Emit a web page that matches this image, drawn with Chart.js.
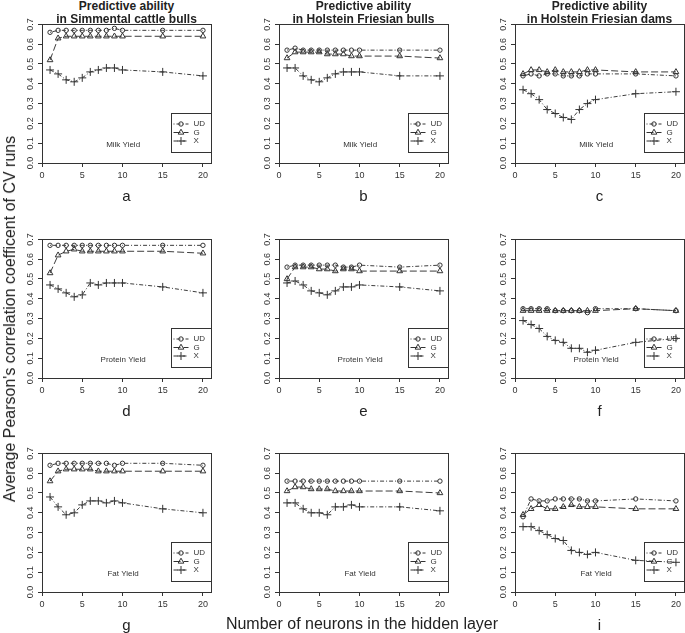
<!DOCTYPE html>
<html>
<head>
<meta charset="utf-8">
<script src="https://cdn.jsdelivr.net/npm/chart.js@4.4.1/dist/chart.umd.min.js"></script>
<style>
  html, body { margin: 0; padding: 0; background: #fff; }
  #page { position: relative; width: 685px; height: 633px; overflow: hidden;
          font-family: "Liberation Sans", Arial, sans-serif; color: #222; }
  #page canvas { position: absolute; }
  .t { position: absolute; transform: translate(-50%, -50%); white-space: nowrap; line-height: 1; }
  .head { font-weight: bold; font-size: 12px; }
  .let { font-size: 15px; }
  .axt { font-size: 16px; }
  .yt { transform: translate(-50%, -50%) rotate(-90deg); }
</style>
</head>
<body>
<div id="page"></div>
<script>
// 3x3 panels: rows = trait, cols = population. x = neurons in hidden layer.

const neurons = [1, 2, 3, 4, 5, 6, 7, 8, 9, 10, 15, 20];
const seriesNames = ["UD", "G", "X"];
const populations = ["in Simmental cattle bulls", "in Holstein Friesian bulls", "in Holstein Friesian dams"];
const traits = ["Milk Yield", "Protein Yield", "Fat Yield"];
const panelLetters = ["a", "b", "c", "d", "e", "f", "g", "", "i"];
const yTicks = [0, 0.1, 0.2, 0.3, 0.4, 0.5, 0.6, 0.7];
const xTicks = [0, 5, 10, 15, 20];

// milk
const ud_a = [0.66, 0.67, 0.67, 0.67, 0.67, 0.67, 0.67, 0.67, 0.68, 0.67, 0.67, 0.67];
const g_a  = [0.52, 0.63, 0.64, 0.64, 0.64, 0.64, 0.64, 0.64, 0.64, 0.64, 0.64, 0.64];
const x_a  = [0.47, 0.45, 0.42, 0.41, 0.43, 0.46, 0.47, 0.48, 0.48, 0.47, 0.46, 0.44];

const ud_b = [0.57, 0.58, 0.57, 0.57, 0.57, 0.57, 0.57, 0.57, 0.57, 0.57, 0.57, 0.57];
const g_b  = [0.53, 0.56, 0.56, 0.56, 0.56, 0.55, 0.55, 0.55, 0.54, 0.54, 0.54, 0.53];
const x_b  = [0.48, 0.48, 0.44, 0.42, 0.41, 0.43, 0.45, 0.46, 0.46, 0.46, 0.44, 0.44];

const ud_c = [0.44, 0.45, 0.44, 0.45, 0.45, 0.44, 0.44, 0.44, 0.45, 0.45, 0.45, 0.44];
const g_c  = [0.45, 0.47, 0.47, 0.46, 0.47, 0.46, 0.46, 0.46, 0.47, 0.47, 0.46, 0.46];
const x_c  = [0.37, 0.35, 0.32, 0.27, 0.25, 0.23, 0.22, 0.27, 0.30, 0.32, 0.35, 0.36];

// protein
const ud_d = [0.67, 0.67, 0.67, 0.67, 0.67, 0.67, 0.67, 0.67, 0.67, 0.67, 0.67, 0.67];
const g_d  = [0.53, 0.62, 0.64, 0.65, 0.64, 0.64, 0.64, 0.64, 0.64, 0.64, 0.64, 0.63];
const x_d  = [0.47, 0.45, 0.43, 0.41, 0.42, 0.48, 0.47, 0.48, 0.48, 0.48, 0.46, 0.43];

const ud_e = [0.56, 0.57, 0.57, 0.57, 0.57, 0.57, 0.57, 0.56, 0.56, 0.57, 0.56, 0.57];
const g_e  = [0.50, 0.56, 0.56, 0.56, 0.55, 0.55, 0.54, 0.55, 0.55, 0.54, 0.54, 0.54];
const x_e  = [0.48, 0.49, 0.47, 0.44, 0.43, 0.42, 0.44, 0.46, 0.46, 0.47, 0.46, 0.44];

const ud_f = [0.35, 0.35, 0.35, 0.35, 0.34, 0.34, 0.34, 0.34, 0.33, 0.35, 0.35, 0.34];
const g_f  = [0.34, 0.34, 0.34, 0.34, 0.34, 0.34, 0.34, 0.34, 0.34, 0.34, 0.35, 0.34];
const x_f  = [0.29, 0.27, 0.25, 0.21, 0.19, 0.18, 0.15, 0.15, 0.13, 0.14, 0.18, 0.20];

// fat
const ud_g = [0.64, 0.65, 0.65, 0.65, 0.65, 0.65, 0.65, 0.65, 0.64, 0.65, 0.65, 0.64];
const g_g  = [0.56, 0.61, 0.62, 0.62, 0.62, 0.62, 0.61, 0.61, 0.61, 0.61, 0.61, 0.61];
const x_g  = [0.48, 0.43, 0.39, 0.40, 0.44, 0.46, 0.46, 0.45, 0.46, 0.45, 0.42, 0.40];

const ud_h = [0.56, 0.56, 0.56, 0.56, 0.56, 0.56, 0.56, 0.56, 0.56, 0.56, 0.56, 0.56];
const g_h  = [0.51, 0.53, 0.53, 0.52, 0.52, 0.52, 0.51, 0.51, 0.51, 0.51, 0.51, 0.50];
const x_h  = [0.45, 0.45, 0.42, 0.40, 0.40, 0.39, 0.43, 0.43, 0.44, 0.43, 0.43, 0.41];

const ud_i = [0.38, 0.47, 0.46, 0.46, 0.47, 0.47, 0.47, 0.47, 0.46, 0.46, 0.47, 0.46];
const g_i  = [0.39, 0.42, 0.44, 0.42, 0.42, 0.43, 0.44, 0.43, 0.43, 0.43, 0.42, 0.42];
const x_i  = [0.33, 0.33, 0.31, 0.29, 0.27, 0.26, 0.21, 0.20, 0.19, 0.20, 0.16, 0.15];

const panels = [
  [ud_a, g_a, x_a], [ud_b, g_b, x_b], [ud_c, g_c, x_c],
  [ud_d, g_d, x_d], [ud_e, g_e, x_e], [ud_f, g_f, x_f],
  [ud_g, g_g, x_g], [ud_h, g_h, x_h], [ud_i, g_i, x_i],
];

// layout (page px)
const colLeft = [42, 279, 515];
const rowTop = [24, 239, 453];
const plotW = 169, plotH = 139;
const padL = 40, padT = 6, padR = 6, padB = 25;

const FONT = '"Liberation Sans", Arial, sans-serif';
const INK = "#333";
Chart.defaults.font.family = FONT;
Chart.defaults.color = INK;

const seriesStyle = [
  { pointStyle: "circle", radius: 2.2, dash: [1, 2, 4, 2] },
  { pointStyle: "triangle", radius: 3.3, dash: [7, 3] },
  { pointStyle: "cross", radius: 4, dash: [4, 2, 1, 2] },
];

const page = document.getElementById("page");

function addText(txt, cls, x, y) {
  const d = document.createElement("div");
  d.className = "t " + cls;
  d.textContent = txt;
  d.style.left = x + "px";
  d.style.top = y + "px";
  page.appendChild(d);
}

function deco(label) {
  return {
    id: "deco",
    beforeDatasetsDraw(chart) {
      const { ctx, chartArea: a } = chart;
      ctx.save();
      ctx.font = "8px " + FONT;
      ctx.fillStyle = INK;
      ctx.textAlign = "center";
      ctx.textBaseline = "middle";
      ctx.fillText(label, a.left + a.width * 0.48, a.bottom - 18);

      // legend box, bottom right
      const w = 40, h = 39;
      const x0 = Math.round(a.right - w) + 0.5;
      const y0 = Math.round(a.bottom - 11 - h) + 0.5;
      ctx.fillStyle = "#fff";
      ctx.fillRect(x0, y0, w, h);
      ctx.strokeStyle = INK;
      ctx.lineWidth = 1;
      ctx.strokeRect(x0, y0, w, h);
      seriesNames.forEach((name, k) => {
        const st = seriesStyle[k];
        const y = y0 + 10.5 + k * 8.5;
        ctx.setLineDash(st.dash);
        ctx.beginPath();
        ctx.moveTo(x0 + 2, y);
        ctx.lineTo(x0 + 17, y);
        ctx.stroke();
        ctx.setLineDash([]);
        ctx.fillStyle = "rgba(0,0,0,0)";
        Chart.helpers.drawPoint(ctx, { pointStyle: st.pointStyle, radius: st.radius, borderWidth: 1, rotation: 0 }, x0 + 9.5, y);
        ctx.fillStyle = INK;
        ctx.textAlign = "left";
        ctx.fillText(name, x0 + 22, y);
      });
      ctx.restore();
    },
    afterDraw(chart) {
      const { ctx, chartArea: a } = chart;
      ctx.save();
      ctx.strokeStyle = INK;
      ctx.lineWidth = 1;
      ctx.strokeRect(Math.round(a.left) + 0.5, Math.round(a.top) + 0.5, Math.round(a.width), Math.round(a.height));
      ctx.restore();
    },
  };
}

panels.forEach((vals, p) => {
  const r = Math.floor(p / 3), c = p % 3;
  const cv = document.createElement("canvas");
  cv.width = padL + plotW + padR;
  cv.height = padT + plotH + padB;
  cv.style.left = (colLeft[c] - padL) + "px";
  cv.style.top = (rowTop[r] - padT) + "px";
  page.appendChild(cv);

  new Chart(cv, {
    type: "line",
    data: {
      datasets: seriesNames.map((name, k) => ({
        label: name,
        data: neurons.map((n, i) => ({ x: n, y: vals[k][i] })),
        borderColor: "#3c3c3c",
        borderWidth: 1,
        borderDash: seriesStyle[k].dash,
        pointStyle: seriesStyle[k].pointStyle,
        pointRadius: seriesStyle[k].radius,
        pointBorderColor: INK,
        pointBackgroundColor: "rgba(0,0,0,0)",
        pointBorderWidth: 1,
        fill: false,
        tension: 0,
      })),
    },
    options: {
      responsive: false,
      animation: false,
      events: [],
      layout: { padding: { left: 0, top: padT, right: padR, bottom: 0 } },
      plugins: { legend: { display: false }, tooltip: { enabled: false } },
      scales: {
        x: {
          type: "linear",
          min: 0,
          max: 21,
          afterBuildTicks: (s) => { s.ticks = xTicks.map((v) => ({ value: v })); },
          ticks: { font: { size: 9 }, color: INK, padding: 3, maxRotation: 0, autoSkip: false },
          grid: { drawOnChartArea: false, tickLength: 4, color: INK },
          border: { display: false },
          afterFit: (s) => { s.height = padB; },
        },
        y: {
          min: 0,
          max: 0.7,
          afterBuildTicks: (s) => { s.ticks = yTicks.map((v) => ({ value: v })); },
          ticks: {
            font: { size: 9 }, color: INK, padding: 1,
            minRotation: 90, maxRotation: 90, crossAlign: "center", autoSkip: false,
            callback: (v) => Number(v).toFixed(1),
          },
          grid: { drawOnChartArea: false, tickLength: 4, color: INK },
          border: { display: false },
          afterFit: (s) => { s.width = padL; },
        },
      },
    },
    plugins: [deco(traits[r])],
  });

  if (panelLetters[p]) {
    addText(panelLetters[p], "let", colLeft[c] + plotW / 2, rowTop[r] + plotH + 31.5);
  }
});

populations.forEach((pop, c) => {
  const cx = colLeft[c] + plotW / 2;
  addText("Predictive ability", "head", cx, 5.5);
  addText(pop, "head", cx, 18.5);
});

addText("Number of neurons in the hidden layer", "axt", 362, 624);
addText("Average Pearson's correlation coefficent of CV runs", "axt yt", 10, 319);
</script>
</body>
</html>
